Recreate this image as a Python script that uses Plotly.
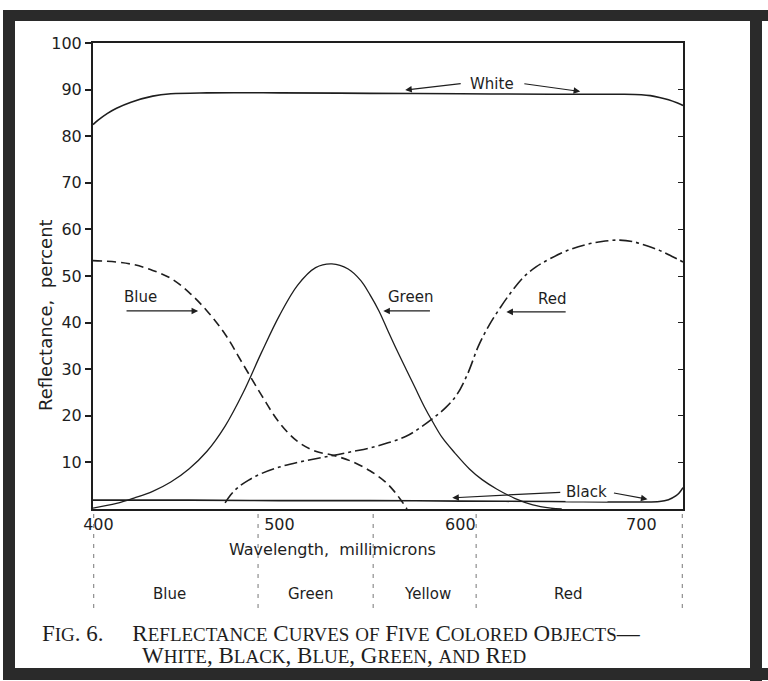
import plotly.graph_objects as go

# ---------------- data ----------------
white_x = [397, 400, 405, 410, 418, 430, 440, 460, 500, 550, 600, 650, 690, 700, 705, 710, 715, 720, 723]
white_y = [82.5, 83.5, 84.9, 86.0, 87.3, 88.6, 89.1, 89.3, 89.3, 89.2, 89.1, 89.0, 89.0, 88.9, 88.7, 88.3, 87.8, 87.1, 86.6]

black_x = [397, 450, 500, 550, 600, 650, 700, 710, 715, 719, 721, 723]
black_y = [1.9, 1.9, 1.8, 1.8, 1.7, 1.6, 1.5, 1.6, 2.0, 2.8, 3.5, 4.6]

blue_x = [397, 410, 420, 430, 440, 450, 460, 470, 480, 490, 500, 510, 520, 530, 540, 550, 558, 563, 567, 570.5]
blue_y = [53.3, 53.0, 52.4, 51.2, 49.5, 46.5, 42.5, 37.5, 31.0, 24.5, 18.5, 14.5, 12.4, 11.5, 10.2, 8.2, 6.0, 4.0, 2.0, 0.0]

green_x = [397, 410, 420, 430, 440, 450, 460, 470, 480, 490, 500, 510, 520, 529, 538, 545, 550, 555, 560, 565,
           570, 575, 580, 585, 590, 597, 605, 612, 620, 630, 640, 650, 656]
green_y = [0.2, 1.2, 2.4, 3.8, 5.8, 8.6, 12.4, 17.8, 25.0, 33.5, 41.5, 48.0, 51.8, 52.6, 51.5, 49.0, 46.0, 42.5, 38.2, 34.0,
           30.0, 26.0, 22.0, 18.5, 15.3, 12.0, 8.6, 6.3, 4.3, 2.3, 0.9, 0.2, 0.0]

red_x = [470, 473, 477, 483, 490, 500, 510, 520, 530, 540, 550, 560, 570, 578, 585, 592, 598, 604, 610, 616, 622,
         628, 635, 642, 650, 660, 670, 680, 688, 695, 703, 710, 717, 723]
red_y = [1.3, 3.0, 4.6, 6.2, 7.6, 9.0, 10.0, 10.8, 11.5, 12.3, 13.1, 14.2, 15.6, 17.5, 19.5, 21.8, 24.5, 29.0, 35.0, 39.5, 43.2,
         46.5, 49.8, 52.0, 53.8, 55.6, 56.8, 57.5, 57.7, 57.4, 56.5, 55.5, 54.2, 53.0]

y_ticks = [10, 20, 30, 40, 50, 60, 70, 80, 90, 100]
x_ticks = [400, 500, 600, 700]

band_names = ["Blue", "Green", "Yellow", "Red"]
band_label_x = [439.0, 517.0, 581.7, 659.6]
band_edges = [397.4, 488.2, 551.8, 608.7, 722.6]

# ---------------- figure ----------------
INK = "#1e1e1e"
SANS = "DejaVu Sans"
SERIF = "Liberation Serif"

W, H = 768, 681
L, R, T, B = 93, 683, 43, 509   # plot area in pixels


def px(xp):
    return (xp - L) / (R - L)


def py(yp):
    return (B - yp) / (B - T)


fig = go.Figure()
fig.add_trace(go.Scatter(x=white_x, y=white_y, mode="lines", line=dict(color=INK, width=1.6, shape="spline")))
fig.add_trace(go.Scatter(x=black_x, y=black_y, mode="lines", line=dict(color=INK, width=1.6, shape="spline")))
fig.add_trace(go.Scatter(x=blue_x, y=blue_y, mode="lines",
                         line=dict(color=INK, width=1.6, dash="9px,5px", shape="spline")))
fig.add_trace(go.Scatter(x=green_x, y=green_y, mode="lines", line=dict(color=INK, width=1.3, shape="spline")))
fig.add_trace(go.Scatter(x=red_x, y=red_y, mode="lines",
                         line=dict(color=INK, width=1.6, dash="13px,4px,3px,4px", shape="spline")))
# helper trace for the right-hand (inside) tick axis
fig.add_trace(go.Scatter(x=[None], y=[None], yaxis="y2", showlegend=False))

ann = []
lab_font = dict(family=SANS, size=15, color=INK)


def arrow(x_head, y_head, x_tail, y_tail):
    ann.append(dict(x=x_head, y=y_head, ax=x_tail, ay=y_tail, xref="x", yref="y", axref="x", ayref="y",
                    text="", showarrow=True, arrowhead=2, arrowsize=1.1, arrowwidth=1.2, arrowcolor=INK))


def label(x, y, text, font, xref="x", yref="y", **kw):
    d = dict(x=x, y=y, text=text, showarrow=False, font=font, xref=xref, yref=yref,
             xanchor="center", yanchor="middle")
    d.update(kw)
    ann.append(d)


# curve labels
label(617.6, 91.3, "White", lab_font)
arrow(569.5, 89.9, 601.0, 91.3)
arrow(666.2, 89.6, 634.5, 91.3)

label(423.5, 45.6, "Blue", lab_font)
arrow(455.1, 42.5, 414.7, 42.5)

label(572.2, 45.4, "Green", lab_font)
arrow(557.4, 42.5, 584.0, 42.5)

label(650.7, 45.0, "Red", lab_font)
arrow(625.4, 42.3, 659.0, 42.3)

label(669.5, 3.6, "Black", lab_font, bgcolor="white", borderpad=0)
arrow(595.5, 2.4, 656.0, 3.6)
arrow(703.4, 2.1, 684.0, 3.5)

# axis titles
label(px(45), py(315), "Reflectance,  percent", dict(family=SANS, size=18, color=INK),
      xref="paper", yref="paper", textangle=-90)
label(529.1, py(549), "Wavelength,  millimicrons", dict(family=SANS, size=16, color=INK), yref="paper")

# colour band names
for name, bx in zip(band_names, band_label_x):
    label(bx, py(594), name, dict(family=SANS, size=15, color=INK), yref="paper")


def smallcaps(s, small=19):
    out, run = [], ""
    for ch in s:
        if ch.islower():
            run += ch.upper()
        else:
            if run:
                out.append("<span style='font-size:%dpx'>%s</span>" % (small, run))
                run = ""
            out.append(ch)
    if run:
        out.append("<span style='font-size:%dpx'>%s</span>" % (small, run))
    return "".join(out)


cap_font = dict(family=SERIF, size=23, color=INK)
label(px(40), py(633), smallcaps("Fig. 6.") + "\u2003 " + smallcaps("Reflectance Curves of Five Colored Objects") + "\u2014",
      cap_font, xref="paper", yref="paper", xanchor="left")
label(px(140), py(655), smallcaps("White, Black, Blue, Green, and Red"),
      cap_font, xref="paper", yref="paper", xanchor="left")

shapes = []
# dashed dividers below the axis
for e in band_edges:
    shapes.append(dict(type="line", xref="x", yref="paper", x0=e, x1=e, y0=py(514), y1=py(608),
                       line=dict(color="#777", width=1, dash="4px,6px")))

# scanned photo frame (dark rough border)
frame_col = "#2a2a2a"
shapes.append(dict(type="rect", xref="paper", yref="paper", x0=px(6), x1=px(768), y0=py(21), y1=py(10),
                   fillcolor=frame_col, line=dict(width=0), layer="above"))
shapes.append(dict(type="rect", xref="paper", yref="paper", x0=px(3), x1=px(15), y0=py(680), y1=py(10),
                   fillcolor=frame_col, line=dict(width=0), layer="above"))
shapes.append(dict(type="rect", xref="paper", yref="paper", x0=px(750), x1=px(762), y0=py(681), y1=py(10),
                   fillcolor=frame_col, line=dict(width=0), layer="above"))
shapes.append(dict(type="rect", xref="paper", yref="paper", x0=px(3), x1=px(768), y0=py(680), y1=py(668),
                   fillcolor=frame_col, line=dict(width=0), layer="above"))

fig.update_layout(
    width=W, height=H,
    margin=dict(l=L, r=W - R, t=T, b=H - B),
    paper_bgcolor="white", plot_bgcolor="white",
    showlegend=False,
    xaxis=dict(range=[397, 723], tickvals=x_ticks, ticks="", showgrid=False, zeroline=False,
               showline=True, linecolor=INK, linewidth=2, mirror=True,
               tickfont=dict(family=SANS, size=16, color=INK)),
    yaxis=dict(range=[0, 100], tickvals=y_ticks, ticks="outside", ticklen=6, tickwidth=1.5, tickcolor=INK,
               showgrid=False, zeroline=False, showline=True, linecolor=INK, linewidth=2, mirror=True,
               tickfont=dict(family=SANS, size=16, color=INK)),
    yaxis2=dict(range=[0, 100], overlaying="y", side="right", tickvals=y_ticks, ticks="inside", ticklen=5,
                tickwidth=1.2, tickcolor=INK, showticklabels=False, showgrid=False, zeroline=False, showline=False),
    annotations=ann,
    shapes=shapes,
)

fig.write_html("out.html", config={"displayModeBar": False},
               post_script="document.body.style.margin='0px';document.body.style.overflow='hidden';")
